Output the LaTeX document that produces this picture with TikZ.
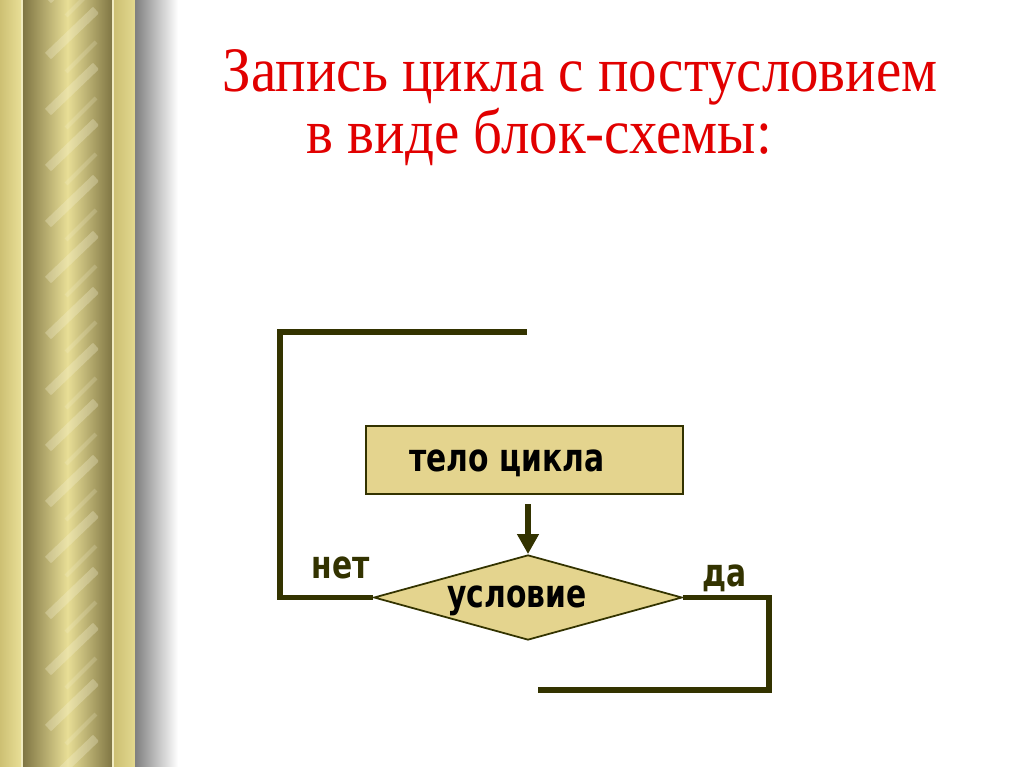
\documentclass[tikz,border=0pt]{standalone}
\usepackage{fontspec}
\setmainfont{Liberation Serif}[FakeStretch=0.9]
\newfontfamily\lblfont{DejaVu Sans}[FakeStretch=0.77]
\usetikzlibrary{calc,positioning,arrows.meta,shapes.geometric}
\definecolor{goldL}{RGB}{232,222,150}
\definecolor{goldM}{RGB}{205,192,115}
\definecolor{goldD}{RGB}{128,118,68}
\definecolor{boxfill}{RGB}{228,212,142}
\definecolor{olive}{RGB}{51,51,0}
\definecolor{titlered}{RGB}{225,0,0}
\tikzset{
  blk/.style={rectangle,draw=olive,line width=0.5pt,fill=boxfill,minimum width=3.17cm,minimum height=0.68cm,inner sep=0pt},
  cond/.style={diamond,draw=olive,line width=0.5pt,fill=boxfill,minimum width=3.08cm,minimum height=0.85cm,inner sep=0pt},
  flow/.style={line width=1.5pt,olive,line join=miter},
  arr/.style={-{Triangle[length=5.7pt,width=5.9pt]},line width=1.7pt,olive},
  lbl/.style={font=\lblfont\bfseries\fontsize{11}{12}\selectfont,text=black,inner sep=0pt},
  ttl/.style={font=\fontsize{18}{20}\selectfont,text=titlered,inner sep=0pt,anchor=base west},
}
\begin{document}
\begin{tikzpicture}[x=0.01cm,y=-0.01cm]
  \useasboundingbox (0,0) rectangle (1024,767);
  \fill[white] (0,0) rectangle (1024,767);
  \shade[left color=goldM,right color=goldL] (0,0) rectangle (21,767);
  \fill[goldL!60!white] (21,0) rectangle (23,767);
  \shade[left color=goldD,right color=goldD,middle color=goldL] (23,0) rectangle (112,767);
  \fill[goldL!60!white] (112,0) rectangle (114,767);
  \shade[left color=goldM,right color=goldL!80!goldM] (114,0) rectangle (135,767);
  \shade[left color=black!50,right color=white] (135,0) rectangle (178,767);
  \begin{scope}
    \clip (45,0) rectangle (98,767);
    \foreach \y in {0,56,...,840}{
      \draw[goldL!40!white,opacity=0.3,line width=2.5pt] (48,\y) -- (96,\y-46);
      \draw[goldL!40!white,opacity=0.2,line width=1.2pt] (66,\y+16) -- (96,\y-14);
    }
  \end{scope}
  \node[ttl] (title1) at (222,92) {Запись цикла с постусловием};
  \node[ttl] (title2) at (306,154) {в виде блок-схемы:};
  \node[blk] (body) at (524.5,460) {};
  \node[cond] (cond) at (528,597.5) {};
  \node[lbl] (bodytxt) at (507,463) {тело цикла};
  \node[lbl] (condtxt) at (517,601) {условие};
  \node[lbl,text=olive] (no) at (341,568) {нет};
  \node[lbl,text=olive] (yes) at (725,578) {да};
  \coordinate (nocorner) at (280,332); \coordinate (loopend) at (527,332);
  \coordinate (yescorner) at (769,690); \coordinate (exit) at (538,690);
  \draw[arr,shorten <=2.6pt] (cond.north |- body.south) -- (cond.north);
  \draw[flow] (cond.west) -| (nocorner) -- (loopend);
  \draw[flow] (cond.east) -| (yescorner) -- (exit);
\end{tikzpicture}
\end{document}
